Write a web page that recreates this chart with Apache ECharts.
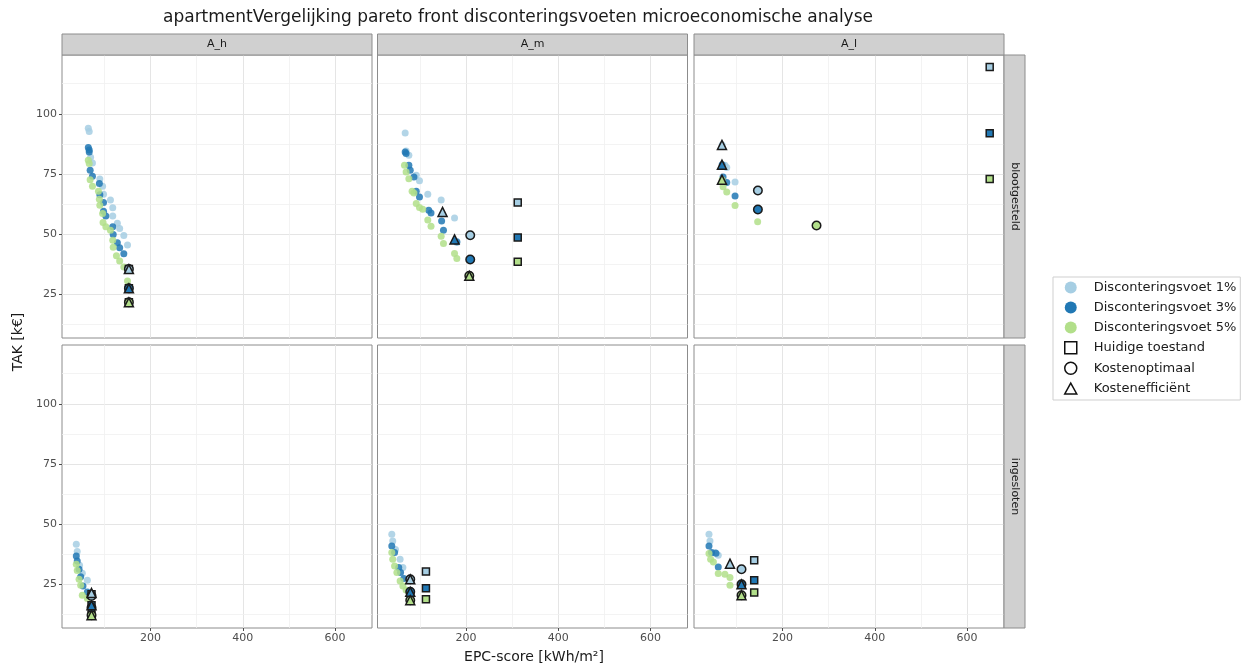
<!DOCTYPE html>
<html><head><meta charset="utf-8">
<script src="https://cdn.jsdelivr.net/npm/echarts@6/dist/echarts.min.js"></script>
<style>html,body{margin:0;padding:0;background:#fff}#c{width:1242px;height:668px}</style>
</head><body><div id="c"></div>
<script>
const rateNames = ['Disconteringsvoet 1%', 'Disconteringsvoet 3%', 'Disconteringsvoet 5%'];
const markerNames = ['Huidige toestand', 'Kostenoptimaal', 'Kostenefficiënt'];
const colNames = ['A_h', 'A_m', 'A_l'];
const rowNames = ['blootgesteld', 'ingesloten'];
const xTicks = [200, 400, 600];
const yTicks = [25, 50, 75, 100];
const xMinor = [100, 300, 500];
const yMinor = [12.5, 37.5, 62.5, 87.5, 112.5];

// ---- blootgesteld ----
const bl_Ah_1 = [[65,94],[67,92.7],[70,82],[74,79.6],[90,73],[96,70],[98,66.6],[113,64.2],[118,61],[118,57.6],[128,54.6],[133,52.4],[142,49.5],[150,45.6]];
const bl_Ah_3 = [[65,86],[67,85],[67,84.2],[69,76.6],[74,74.1],[89,71.1],[90,66.4],[98,63.2],[98,59.6],[103,57.6],[118,53.1],[119,49.9],[128,46.5],[133,44.4],[142,41.9]];
const bl_Ah_5 = [[65,80.7],[67,79.4],[69,72.7],[74,70],[87,67.9],[89,64.6],[90,62.1],[96,58.6],[97,54.9],[103,53.1],[113,51.7],[118,47.6],[119,44.6],[126,41.1],[133,38.9],[142,36.5],[150,30.6]];
const bl_Ah_huidig = [[153,35.6],[153,27.6],[153,21.8]];
const bl_Ah_optimaal = [[153,35.6],[153,27.6],[153,21.8]];
const bl_Ah_efficient = [[153,35.6],[153,27.6],[153,21.8]];

const bl_Am_1 = [[68,92],[70,84.6],[76,82.8],[92,74.5],[99,72.2],[117,66.6],[146,64.2],[175,56.8],[180,46.6]];
const bl_Am_3 = [[68,84.2],[70,83.5],[76,78.7],[79,76.6],[87,73.8],[92,67.9],[99,65.5],[119,60],[124,58.9],[147,55.5],[151,51.7],[180,46.9]];
const bl_Am_5 = [[66.5,78.7],[70,75.9],[76,73.1],[83,67.9],[87,67.2],[92,62.8],[99,61.1],[106,60.4],[117,55.9],[124,53.4],[146,49.2],[151,46.2],[175,42.1],[180,40]];
const bl_Am_huidig = [[312,63.2],[312,48.7],[312,38.6]];
const bl_Am_optimaal = [[209,49.6],[209,39.6],[207,32.8]];
const bl_Am_efficient = [[149,59.3],[175,47.9],[207,32.8]];

const bl_Al_1 = [[69,87.1],[75,78.7],[79,77.7],[97,71.7],[146,68.2]];
const bl_Al_3 = [[69,78.9],[71,73.8],[79,71.5],[97,65.9],[146,60.3]];
const bl_Al_5 = [[69,72.7],[71,69.7],[79,67.6],[97,62],[146,55.2],[274,53.7]];
const bl_Al_huidig = [[649,119.4],[649,91.9],[649,73]];
const bl_Al_optimaal = [[146.5,68.2],[146.5,60.3],[273.6,53.7]];
const bl_Al_efficient = [[68.6,87.1],[68.6,78.9],[68.6,72.7]];

// ---- ingesloten ----
const in_Ah_1 = [[39,41.7],[41,38.7],[46,33],[52,29.7],[63,26.8]];
const in_Ah_3 = [[39,36.9],[41,34.8],[45,31.4],[48.5,28.3],[53.5,24.4],[63,21.9]];
const in_Ah_5 = [[39,33.4],[41,30.9],[45,27.2],[48.5,24.7],[52,20.6],[63,19.2]];
const in_Ah_huidig = [[72,21],[72,16.4],[72,12.3]];
const in_Ah_optimaal = [[72,20.3],[72,15.4],[72,12.3]];
const in_Ah_efficient = [[72,21.5],[72,16.4],[72,12.3]];

const in_Am_1 = [[39,45.9],[41,43.1],[47,39.6],[57,35.5],[63,32.1]];
const in_Am_3 = [[39,41],[45,38.3],[54,32.1],[58,30],[65,27.5]];
const in_Am_5 = [[39,38.3],[41,35.5],[45,32.7],[50,30],[57,26.5],[63,24.4],[70,22.8]];
const in_Am_huidig = [[113,30.4],[113,23.5],[113,18.9]];
const in_Am_optimaal = [[79,27.2],[79,22],[79,18.5]];
const in_Am_efficient = [[79,27.2],[79,22],[79,18.5]];

const in_Al_1 = [[40.5,45.9],[42.6,43.1],[53.5,38.3],[60.6,37.2]];
const in_Al_3 = [[40.5,41],[46,38.3],[55.6,38],[60.6,32.3]];
const in_Al_5 = [[40.5,37.9],[44,35.5],[50,34.4],[60.6,29.6],[75,29.3],[86,27.9],[86,24.7]];
const in_Al_huidig = [[138.5,35.1],[138.5,26.8],[138.5,21.7]];
const in_Al_optimaal = [[111,31.4],[111,25.1],[111,20.6]];
const in_Al_efficient = [[86,33.7],[111,25.1],[111,20.6]];

const panels = [
  {rates:[bl_Ah_1,bl_Ah_3,bl_Ah_5], markers:[bl_Ah_huidig,bl_Ah_optimaal,bl_Ah_efficient]},
  {rates:[bl_Am_1,bl_Am_3,bl_Am_5], markers:[bl_Am_huidig,bl_Am_optimaal,bl_Am_efficient]},
  {rates:[bl_Al_1,bl_Al_3,bl_Al_5], markers:[bl_Al_huidig,bl_Al_optimaal,bl_Al_efficient]},
  {rates:[in_Ah_1,in_Ah_3,in_Ah_5], markers:[in_Ah_huidig,in_Ah_optimaal,in_Ah_efficient]},
  {rates:[in_Am_1,in_Am_3,in_Am_5], markers:[in_Am_huidig,in_Am_optimaal,in_Am_efficient]},
  {rates:[in_Al_1,in_Al_3,in_Al_5], markers:[in_Al_huidig,in_Al_optimaal,in_Al_efficient]}
];

const rateColors = ['#a6cee3', '#2178b4', '#b2df8a'];
const markerSymbols = ['rect', 'circle', 'triangle'];
const markerSizes = [7, 8.5, 9];
const legendIcons = ['path://M0,0L10,0L10,10L0,10Z', 'circle', 'path://M5,0L10,9L0,9Z'];
const FONT = 'DejaVu Sans';
const gridLefts = [62, 377.5, 694];
const gridTops = [55, 345];
const GW = 310, GH = 283;
const XMIN = 8, XMAX = 680, YMIN = 7, YMAX = 124.4;

const grids = [], xAxes = [], yAxes = [], series = [], graphics = [];
panels.forEach((p, k) => {
  const r = Math.floor(k / 3), c = k % 3;
  grids.push({left: gridLefts[c], top: gridTops[r], width: GW, height: GH, show: true,
    borderColor: '#8c8c8c', borderWidth: 1, backgroundColor: 'transparent'});
  xAxes.push({type: 'value', gridIndex: k, min: XMIN, max: XMAX,
    axisLine: {show: false},
    axisTick: {show: r === 1, length: 3, customValues: xTicks, lineStyle: {color: '#4d4d4d'}},
    axisLabel: {show: r === 1, customValues: xTicks, fontSize: 11, color: '#4d4d4d', fontFamily: FONT, margin: 5},
    splitLine: {show: true, lineStyle: {color: '#e5e5e5', width: 1}}});
  yAxes.push({type: 'value', gridIndex: k, min: YMIN, max: YMAX,
    axisLine: {show: false},
    axisTick: {show: c === 0, length: 3, customValues: yTicks, lineStyle: {color: '#4d4d4d'}},
    axisLabel: {show: c === 0, customValues: yTicks, fontSize: 11, color: '#4d4d4d', fontFamily: FONT, margin: 5},
    splitLine: {show: true, lineStyle: {color: '#e5e5e5', width: 1}}});
  p.rates.forEach((pts, i) => {
    const s = {type: 'scatter', name: rateNames[i], xAxisIndex: k, yAxisIndex: k,
      data: pts, symbol: 'circle', symbolSize: 7, z: 2,
      itemStyle: {color: rateColors[i], opacity: 0.85}};
    if (i === 0) {
      s.markLine = {silent: true, symbol: 'none', z: 1, animation: false,
        label: {show: false}, lineStyle: {color: '#f0f0f0', width: 0.8, type: 'solid'},
        emphasis: {disabled: true},
        data: xMinor.map(v => ({xAxis: v})).concat(yMinor.map(v => ({yAxis: v})))};
    }
    series.push(s);
  });
  p.markers.forEach((pts, m) => {
    series.push({type: 'scatter', name: markerNames[m], xAxisIndex: k, yAxisIndex: k,
      symbol: markerSymbols[m], symbolSize: markerSizes[m], z: 3 + m,
      itemStyle: {borderColor: '#1a1a1a', borderWidth: 1.5, opacity: 1},
      data: pts.map((pt, i) => ({value: pt, itemStyle: {color: rateColors[i]}}))});
  });
  if (r === 0) {
    graphics.push({type: 'rect', shape: {x: gridLefts[c], y: 34, width: GW, height: 21},
      style: {fill: '#d0d0d0', stroke: '#8c8c8c', lineWidth: 1}, z: 10});
    graphics.push({type: 'text', x: gridLefts[c] + GW / 2, y: 44.5, z: 11,
      style: {text: colNames[c], font: '11px "DejaVu Sans"', fill: '#1a1a1a', textAlign: 'center', textVerticalAlign: 'middle'}});
  }
  if (c === 2) {
    graphics.push({type: 'rect', shape: {x: gridLefts[c] + GW, y: gridTops[r], width: 21, height: GH},
      style: {fill: '#d0d0d0', stroke: '#8c8c8c', lineWidth: 1}, z: 10});
    graphics.push({type: 'text', x: gridLefts[c] + GW + 10.5, y: gridTops[r] + GH / 2, rotation: -Math.PI / 2, z: 11,
      style: {text: rowNames[r], font: '11px "DejaVu Sans"', fill: '#1a1a1a', textAlign: 'center', textVerticalAlign: 'middle'}});
  }
});

graphics.push({type: 'text', x: 518, y: 18, z: 11,
  style: {text: 'apartmentVergelijking pareto front disconteringsvoeten microeconomische analyse',
    font: '17px "DejaVu Sans"', fill: '#1a1a1a', textAlign: 'center', textVerticalAlign: 'middle'}});
graphics.push({type: 'text', x: 534, y: 657, z: 11,
  style: {text: 'EPC-score [kWh/m²]', font: '14px "DejaVu Sans"', fill: '#1a1a1a', textAlign: 'center', textVerticalAlign: 'middle'}});
graphics.push({type: 'text', x: 18, y: 342, rotation: Math.PI / 2, z: 11,
  style: {text: 'TAK [k€]', font: '14px "DejaVu Sans"', fill: '#1a1a1a', textAlign: 'center', textVerticalAlign: 'middle'}});

const legendData = rateNames.map((n, i) => ({name: n, icon: 'circle', itemStyle: {color: rateColors[i], opacity: 1, borderWidth: 0}}))
  .concat(markerNames.map((n, m) => ({name: n, icon: legendIcons[m],
    itemStyle: {color: '#ffffff', borderColor: '#111', borderWidth: 1.5, opacity: 1}})));

const chart = echarts.init(document.getElementById('c'), null, {renderer: 'canvas'});
chart.setOption({
  animation: false,
  backgroundColor: '#ffffff',
  textStyle: {fontFamily: FONT},
  grid: grids, xAxis: xAxes, yAxis: yAxes, series: series,
  legend: {orient: 'vertical', left: 1053, top: 277, data: legendData,
    itemWidth: 12, itemHeight: 12, itemGap: 7, padding: [4, 4, 5, 11],
    symbolKeepAspect: true,
    borderColor: '#cfcfcf', borderWidth: 1,
    textStyle: {fontSize: 13, color: '#1a1a1a', fontFamily: FONT, padding: [0, 0, 0, 12]}},
  graphic: graphics
});
</script></body></html>
